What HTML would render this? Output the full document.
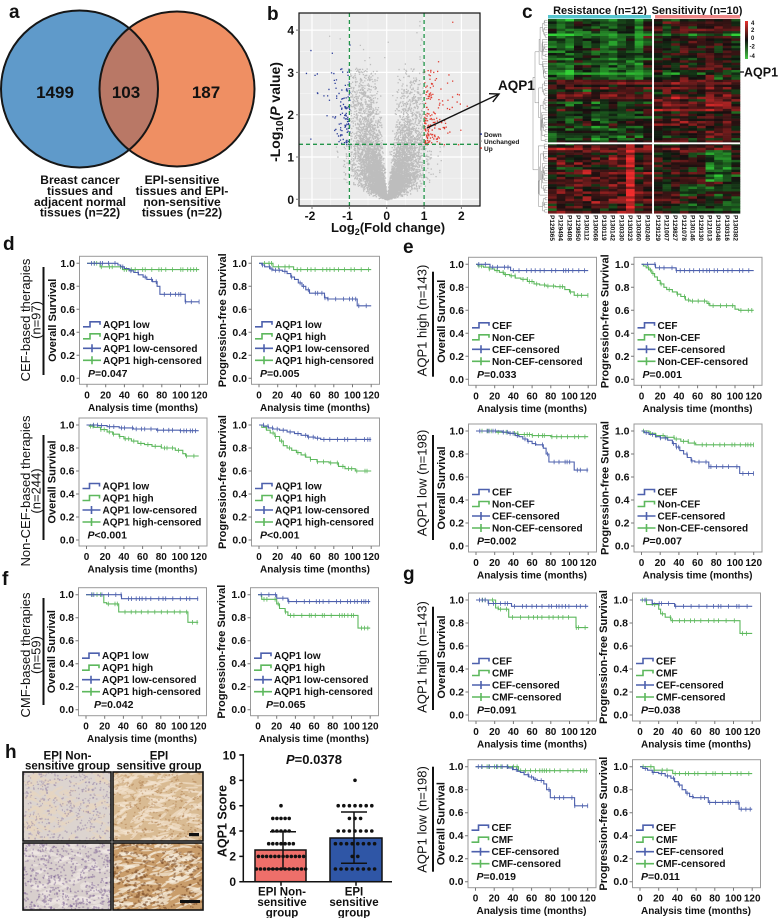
<!DOCTYPE html>
<html><head><meta charset="utf-8"><style>
html,body{margin:0;padding:0;background:#fff}
svg{display:block}
text{font-family:"Liberation Sans",Arial,sans-serif;font-weight:bold;fill:#111}
.yt{font-size:10.5px;text-anchor:end}
.xt{font-size:10px;text-anchor:middle}
.xl{font-size:10px;text-anchor:middle}
.yl{font-size:11px;text-anchor:middle}
.lg{font-size:10px}
.pv{font-size:10.5px}
.box{fill:#fff;stroke:#9a9a9a;stroke-width:1}
.tk{stroke:#777;stroke-width:1;fill:none}
.rl{font-size:13px;font-weight:normal;text-anchor:middle}
.pl{font-size:19px}
.sb{stroke:#4d60ad;stroke-width:1.6;fill:none}
.sg{stroke:#5db85d;stroke-width:1.6;fill:none}
.vn{font-size:17px;text-anchor:middle}
.vl{font-size:12px;text-anchor:middle}
.sid{font-size:6.5px}
</style></head><body>
<svg width="778" height="918" viewBox="0 0 778 918" xmlns="http://www.w3.org/2000/svg">
<defs>
<clipPath id="cb"><circle cx="79.5" cy="89" r="78.5"/></clipPath>
<clipPath id="vclip"><rect x="299" y="13" width="181" height="193"/></clipPath>
<clipPath id="i1"><rect x="23" y="772" width="88" height="69"/></clipPath>
<clipPath id="i2"><rect x="23" y="843" width="88" height="67"/></clipPath>
<clipPath id="i3"><rect x="113" y="772" width="90" height="69"/></clipPath>
<clipPath id="i4"><rect x="113" y="843" width="90" height="67"/></clipPath>
<linearGradient id="cs" x1="0" y1="0" x2="0" y2="1">
<stop offset="0" stop-color="#e8302c"/><stop offset="0.5" stop-color="#111"/><stop offset="1" stop-color="#45c845"/>
</linearGradient>
</defs>

<!-- Panel a: Venn -->
<text class="pl" x="9" y="18">a</text>
<circle cx="79.5" cy="89" r="78.5" fill="#5f9aca"/>
<circle cx="177" cy="89" r="77.5" fill="#ef8f63"/>
<circle cx="177" cy="89" r="77.5" fill="#b97866" clip-path="url(#cb)"/>
<circle cx="79.5" cy="89" r="78.5" fill="none" stroke="#161616" stroke-width="2"/>
<circle cx="177" cy="89" r="77.5" fill="none" stroke="#161616" stroke-width="2"/>
<text class="vn" x="55" y="98">1499</text>
<text class="vn" x="126" y="98">103</text>
<text class="vn" x="206" y="98">187</text>
<text class="vl"><tspan x="80" y="184">Breast cancer</tspan><tspan x="80" y="195">tissues and</tspan><tspan x="80" y="206">adjacent normal</tspan><tspan x="80" y="216.5">tissues (n=22)</tspan></text>
<text class="vl"><tspan x="182" y="184">EPI-sensitive</tspan><tspan x="182" y="195">tissues and EPI-</tspan><tspan x="182" y="206">non-sensitive</tspan><tspan x="182" y="216.5">tissues (n=22)</tspan></text>

<!-- Panel b: volcano -->
<text class="pl" x="267" y="20">b</text>
<rect x="299" y="13" width="181" height="193" fill="#ebebeb"/>
<path stroke="#f7f7f7" stroke-width="0.6" fill="none" d="M330.7 13V206M368 13V206M405.4 13V206M442.7 13V206M299 178.2H480M299 135.9H480M299 93.6H480M299 51.3H480"/>
<path stroke="#fff" stroke-width="1.2" fill="none" d="M312 13V206M349.4 13V206M386.7 13V206M424.1 13V206M461.4 13V206M299 199.3H480M299 157H480M299 114.7H480M299 72.4H480M299 30.1H480"/>
<g id="vpts" clip-path="url(#vclip)"></g>
<path stroke="#23954a" stroke-width="1.3" stroke-dasharray="4 3" fill="none" d="M349.4 13V206M424.1 13V206M299 144.3H480"/>
<rect x="299" y="13" width="181" height="193" fill="none" stroke="#111" stroke-width="1.2"/>
<path class="tk" stroke="#333" d="M299 199.3h-3M299 157h-3M299 114.7h-3M299 72.4h-3M299 30.1h-3M312 206v3M349.4 206v3M386.7 206v3M424.1 206v3M461.4 206v3"/>
<text style="font-size:12px;text-anchor:end"><tspan x="294" y="203.8">0</tspan><tspan x="294" y="161.5">1</tspan><tspan x="294" y="119.2">2</tspan><tspan x="294" y="76.9">3</tspan><tspan x="294" y="34.6">4</tspan></text>
<text style="font-size:12px;text-anchor:middle" y="220"><tspan x="310">-2</tspan><tspan x="347.5">-1</tspan><tspan x="386.7">0</tspan><tspan x="424.1">1</tspan><tspan x="461.4">2</tspan></text>
<text x="388" y="232" style="font-size:13px;text-anchor:middle">Log<tspan style="font-size:9px" dy="3">2</tspan><tspan dy="-3">(Fold change)</tspan></text>
<text transform="translate(280,112) rotate(-90)" style="font-size:14px;text-anchor:middle">-Log<tspan style="font-size:10px" dy="3">10</tspan><tspan dy="-3">(</tspan><tspan font-style="italic">P</tspan> value)</text>
<rect x="480.3" y="133.3" width="1.6" height="1.6" fill="#2b3d99"/>
<rect x="480.3" y="140.3" width="1.6" height="1.6" fill="#b9b9b9"/>
<rect x="480.3" y="147.3" width="1.6" height="1.6" fill="#e03c31"/>
<text style="font-size:6.5px"><tspan x="484" y="137">Down</tspan><tspan x="484" y="144">Unchanged</tspan><tspan x="484" y="151">Up</tspan></text>
<path d="M427 128L499 94" stroke="#111" stroke-width="1.4" fill="none"/>
<polyline points="489,93.7 499,94 492.8,101.9" stroke="#111" stroke-width="1.4" fill="none"/>
<text x="498" y="90" style="font-size:13.5px">AQP1</text>

<!-- Panel c: heatmap -->
<text class="pl" x="522" y="18">c</text>
<text x="600" y="14" style="font-size:11px;text-anchor:middle">Resistance (n=12)</text>
<text x="697" y="14" style="font-size:11px;text-anchor:middle">Sensitivity (n=10)</text>
<rect x="548" y="15" width="103" height="3.5" fill="#56c5cf"/>
<rect x="655" y="15" width="85" height="3.5" fill="#ee8686"/>
<g id="hm"></g>
<path d="M653 19V213.3M548 143.3H740" stroke="#fff" stroke-width="1.8"/>
<g id="dend"></g>
<rect x="745" y="21" width="3" height="38" fill="url(#cs)"/>
<text style="font-size:6px"><tspan x="751" y="25">4</tspan><tspan x="751" y="32">2</tspan><tspan x="751" y="40">0</tspan><tspan x="749.5" y="48.5">-2</tspan><tspan x="749.5" y="58">-4</tspan></text>
<path d="M740 72H744" stroke="#111" stroke-width="1.3"/>
<text x="744" y="76.5" style="font-size:12.5px">AQP1</text>
<g class="sid">
<text transform="translate(550,215) rotate(90)">P129365</text>
<text transform="translate(558.7,215) rotate(90)">P129494</text>
<text transform="translate(567.4,215) rotate(90)">P129408</text>
<text transform="translate(576,215) rotate(90)">P129850</text>
<text transform="translate(584.7,215) rotate(90)">P130112</text>
<text transform="translate(593.4,215) rotate(90)">P130068</text>
<text transform="translate(602,215) rotate(90)">P130119</text>
<text transform="translate(610.7,215) rotate(90)">P130142</text>
<text transform="translate(619.4,215) rotate(90)">P130330</text>
<text transform="translate(628,215) rotate(90)">P130323</text>
<text transform="translate(636.7,215) rotate(90)">P130360</text>
<text transform="translate(645.4,215) rotate(90)">P130240</text>
<text transform="translate(656,215) rotate(90)">P129129</text>
<text transform="translate(664.6,215) rotate(90)">P121007</text>
<text transform="translate(673.2,215) rotate(90)">P129827</text>
<text transform="translate(681.8,215) rotate(90)">P121078</text>
<text transform="translate(690.4,215) rotate(90)">P130146</text>
<text transform="translate(699,215) rotate(90)">P129130</text>
<text transform="translate(707.6,215) rotate(90)">P121013</text>
<text transform="translate(716.2,215) rotate(90)">P130348</text>
<text transform="translate(724.8,215) rotate(90)">P130316</text>
<text transform="translate(733.4,215) rotate(90)">P130382</text>
</g>

<!-- Panel letters d e f g -->
<text class="pl" x="3" y="250">d</text>
<text class="pl" x="403" y="253">e</text>
<text class="pl" x="2" y="585">f</text>
<text class="pl" x="403" y="580">g</text>

<!-- Row labels left -->
<text class="rl" transform="translate(30,320) rotate(-90)">CEF-based therapies</text>
<text class="rl" transform="translate(40.5,320) rotate(-90)">(n=97)</text>
<path d="M43.5 267V375" stroke="#111" stroke-width="2"/>
<text class="rl" transform="translate(30,491) rotate(-90)">Non-CEF-based therapies</text>
<text class="rl" transform="translate(40.5,491) rotate(-90)">(n=244)</text>
<path d="M43.5 435V540" stroke="#111" stroke-width="2"/>
<text class="rl" transform="translate(30,655) rotate(-90)">CMF-based therapies</text>
<text class="rl" transform="translate(40.5,655) rotate(-90)">(n=59)</text>
<path d="M43.5 598V705" stroke="#111" stroke-width="2"/>
<!-- Row labels right -->
<text class="rl" transform="translate(426.5,320.5) rotate(-90)">AQP1 high (n=143)</text>
<path d="M433 271.7V376.7" stroke="#111" stroke-width="2"/>
<text class="rl" transform="translate(426.5,483) rotate(-90)">AQP1 low (n=198)</text>
<path d="M433 435V540" stroke="#111" stroke-width="2"/>
<text class="rl" transform="translate(426.5,657) rotate(-90)">AQP1 high (n=143)</text>
<path d="M433 606.7V710" stroke="#111" stroke-width="2"/>
<text class="rl" transform="translate(426.5,819.5) rotate(-90)">AQP1 low (n=198)</text>
<path d="M433 766.7V871.7" stroke="#111" stroke-width="2"/>

<!-- KM plot 1 -->
<g transform="translate(87,378.3)">
<rect class="box" x="-7.5" y="-122" width="128" height="128"/>
<path class="tk" d="M-7.5 0h-3M-7.5-23h-3M-7.5-46h-3M-7.5-69h-3M-7.5-92h-3M-7.5-115h-3M0 6v3M18.7 6v3M37.4 6v3M56.1 6v3M74.8 6v3M93.5 6v3M112.2 6v3"/>
<text class="yt"><tspan x="-12" y="3.5">0.0</tspan><tspan x="-12" y="-19.5">0.2</tspan><tspan x="-12" y="-42.5">0.4</tspan><tspan x="-12" y="-65.5">0.6</tspan><tspan x="-12" y="-88.5">0.8</tspan><tspan x="-12" y="-111.5">1.0</tspan></text>
<text class="xt" y="20"><tspan x="0">0</tspan><tspan x="18.7">20</tspan><tspan x="37.4">40</tspan><tspan x="56.1">60</tspan><tspan x="74.8">80</tspan><tspan x="93.5">100</tspan><tspan x="112.2">120</tspan></text>
<text class="xl" x="56" y="32.5">Analysis time (months)</text>
<text class="yl" transform="translate(-31,-58) rotate(-90)">Overall Survival</text>
<path class="sb" d="M-4-51.5H3V-56.5H13V-53.5"/><path class="sg" d="M-4-39.5H3V-44.5H13V-41.5"/><path class="sb" d="M-4-30H14M5-34V-26"/><path class="sg" d="M-4-18H14M5-22V-14"/>
<text class="lg"><tspan x="16" y="-50.5">AQP1 low</tspan><tspan x="16" y="-38.5">AQP1 high</tspan><tspan x="16" y="-26.5">AQP1 low-censored</tspan><tspan x="16" y="-14.5">AQP1 high-censored</tspan></text>
<text class="pv" x="1" y="-1.5"><tspan font-style="italic">P</tspan>=0.047</text>
<g id="k1"></g>
</g>
<!-- KM plot 2 -->
<g transform="translate(259,378.3)">
<rect class="box" x="-7.5" y="-122" width="128" height="128"/>
<path class="tk" d="M-7.5 0h-3M-7.5-23h-3M-7.5-46h-3M-7.5-69h-3M-7.5-92h-3M-7.5-115h-3M0 6v3M18.7 6v3M37.4 6v3M56.1 6v3M74.8 6v3M93.5 6v3M112.2 6v3"/>
<text class="yt"><tspan x="-12" y="3.5">0.0</tspan><tspan x="-12" y="-19.5">0.2</tspan><tspan x="-12" y="-42.5">0.4</tspan><tspan x="-12" y="-65.5">0.6</tspan><tspan x="-12" y="-88.5">0.8</tspan><tspan x="-12" y="-111.5">1.0</tspan></text>
<text class="xt" y="20"><tspan x="0">0</tspan><tspan x="18.7">20</tspan><tspan x="37.4">40</tspan><tspan x="56.1">60</tspan><tspan x="74.8">80</tspan><tspan x="93.5">100</tspan><tspan x="112.2">120</tspan></text>
<text class="xl" x="56" y="32.5">Analysis time (months)</text>
<text class="yl" transform="translate(-33,-58) rotate(-90)">Progression-free Survival</text>
<path class="sb" d="M-4-51.5H3V-56.5H13V-53.5"/><path class="sg" d="M-4-39.5H3V-44.5H13V-41.5"/><path class="sb" d="M-4-30H14M5-34V-26"/><path class="sg" d="M-4-18H14M5-22V-14"/>
<text class="lg"><tspan x="16" y="-50.5">AQP1 low</tspan><tspan x="16" y="-38.5">AQP1 high</tspan><tspan x="16" y="-26.5">AQP1 low-censored</tspan><tspan x="16" y="-14.5">AQP1 high-censored</tspan></text>
<text class="pv" x="1" y="-1.5"><tspan font-style="italic">P</tspan>=0.005</text>
<g id="k2"></g>
</g>
<!-- KM plot 3 -->
<g transform="translate(86.5,540)">
<rect class="box" x="-7.5" y="-122" width="128" height="128"/>
<path class="tk" d="M-7.5 0h-3M-7.5-23h-3M-7.5-46h-3M-7.5-69h-3M-7.5-92h-3M-7.5-115h-3M0 6v3M18.7 6v3M37.4 6v3M56.1 6v3M74.8 6v3M93.5 6v3M112.2 6v3"/>
<text class="yt"><tspan x="-12" y="3.5">0.0</tspan><tspan x="-12" y="-19.5">0.2</tspan><tspan x="-12" y="-42.5">0.4</tspan><tspan x="-12" y="-65.5">0.6</tspan><tspan x="-12" y="-88.5">0.8</tspan><tspan x="-12" y="-111.5">1.0</tspan></text>
<text class="xt" y="20"><tspan x="0">0</tspan><tspan x="18.7">20</tspan><tspan x="37.4">40</tspan><tspan x="56.1">60</tspan><tspan x="74.8">80</tspan><tspan x="93.5">100</tspan><tspan x="112.2">120</tspan></text>
<text class="xl" x="56" y="32.5">Analysis time (months)</text>
<text class="yl" transform="translate(-31,-58) rotate(-90)">Overall Survival</text>
<path class="sb" d="M-4-51.5H3V-56.5H13V-53.5"/><path class="sg" d="M-4-39.5H3V-44.5H13V-41.5"/><path class="sb" d="M-4-30H14M5-34V-26"/><path class="sg" d="M-4-18H14M5-22V-14"/>
<text class="lg"><tspan x="16" y="-50.5">AQP1 low</tspan><tspan x="16" y="-38.5">AQP1 high</tspan><tspan x="16" y="-26.5">AQP1 low-censored</tspan><tspan x="16" y="-14.5">AQP1 high-censored</tspan></text>
<text class="pv" x="1" y="-1.5"><tspan font-style="italic">P</tspan>&lt;0.001</text>
<g id="k3"></g>
</g>
<!-- KM plot 4 -->
<g transform="translate(259,540)">
<rect class="box" x="-7.5" y="-122" width="128" height="128"/>
<path class="tk" d="M-7.5 0h-3M-7.5-23h-3M-7.5-46h-3M-7.5-69h-3M-7.5-92h-3M-7.5-115h-3M0 6v3M18.7 6v3M37.4 6v3M56.1 6v3M74.8 6v3M93.5 6v3M112.2 6v3"/>
<text class="yt"><tspan x="-12" y="3.5">0.0</tspan><tspan x="-12" y="-19.5">0.2</tspan><tspan x="-12" y="-42.5">0.4</tspan><tspan x="-12" y="-65.5">0.6</tspan><tspan x="-12" y="-88.5">0.8</tspan><tspan x="-12" y="-111.5">1.0</tspan></text>
<text class="xt" y="20"><tspan x="0">0</tspan><tspan x="18.7">20</tspan><tspan x="37.4">40</tspan><tspan x="56.1">60</tspan><tspan x="74.8">80</tspan><tspan x="93.5">100</tspan><tspan x="112.2">120</tspan></text>
<text class="xl" x="56" y="32.5">Analysis time (months)</text>
<text class="yl" transform="translate(-33,-58) rotate(-90)">Progression-free Survival</text>
<path class="sb" d="M-4-51.5H3V-56.5H13V-53.5"/><path class="sg" d="M-4-39.5H3V-44.5H13V-41.5"/><path class="sb" d="M-4-30H14M5-34V-26"/><path class="sg" d="M-4-18H14M5-22V-14"/>
<text class="lg"><tspan x="16" y="-50.5">AQP1 low</tspan><tspan x="16" y="-38.5">AQP1 high</tspan><tspan x="16" y="-26.5">AQP1 low-censored</tspan><tspan x="16" y="-14.5">AQP1 high-censored</tspan></text>
<text class="pv" x="1" y="-1.5"><tspan font-style="italic">P</tspan>&lt;0.001</text>
<g id="k4"></g>
</g>
<!-- KM plot 5 (f OS) -->
<g transform="translate(86,709.7)">
<rect class="box" x="-7.5" y="-122" width="128" height="128"/>
<path class="tk" d="M-7.5 0h-3M-7.5-23h-3M-7.5-46h-3M-7.5-69h-3M-7.5-92h-3M-7.5-115h-3M0 6v3M18.7 6v3M37.4 6v3M56.1 6v3M74.8 6v3M93.5 6v3M112.2 6v3"/>
<text class="yt"><tspan x="-12" y="3.5">0.0</tspan><tspan x="-12" y="-19.5">0.2</tspan><tspan x="-12" y="-42.5">0.4</tspan><tspan x="-12" y="-65.5">0.6</tspan><tspan x="-12" y="-88.5">0.8</tspan><tspan x="-12" y="-111.5">1.0</tspan></text>
<text class="xt" y="20"><tspan x="0">0</tspan><tspan x="18.7">20</tspan><tspan x="37.4">40</tspan><tspan x="56.1">60</tspan><tspan x="74.8">80</tspan><tspan x="93.5">100</tspan><tspan x="112.2">120</tspan></text>
<text class="xl" x="56" y="32.5">Analysis time (months)</text>
<text class="yl" transform="translate(-31,-58) rotate(-90)">Overall Survival</text>
<path class="sb" d="M-4-51.5H3V-56.5H13V-53.5"/><path class="sg" d="M-4-39.5H3V-44.5H13V-41.5"/><path class="sb" d="M-4-30H14M5-34V-26"/><path class="sg" d="M-4-18H14M5-22V-14"/>
<text class="lg"><tspan x="16" y="-50.5">AQP1 low</tspan><tspan x="16" y="-38.5">AQP1 high</tspan><tspan x="16" y="-26.5">AQP1 low-censored</tspan><tspan x="16" y="-14.5">AQP1 high-censored</tspan></text>
<text class="pv" x="8" y="-1.5"><tspan font-style="italic">P</tspan>=0.042</text>
<g id="k5"></g>
</g>
<!-- KM plot 6 (f PFS) -->
<g transform="translate(258,709.7)">
<rect class="box" x="-7.5" y="-122" width="128" height="128"/>
<path class="tk" d="M-7.5 0h-3M-7.5-23h-3M-7.5-46h-3M-7.5-69h-3M-7.5-92h-3M-7.5-115h-3M0 6v3M18.7 6v3M37.4 6v3M56.1 6v3M74.8 6v3M93.5 6v3M112.2 6v3"/>
<text class="yt"><tspan x="-12" y="3.5">0.0</tspan><tspan x="-12" y="-19.5">0.2</tspan><tspan x="-12" y="-42.5">0.4</tspan><tspan x="-12" y="-65.5">0.6</tspan><tspan x="-12" y="-88.5">0.8</tspan><tspan x="-12" y="-111.5">1.0</tspan></text>
<text class="xt" y="20"><tspan x="0">0</tspan><tspan x="18.7">20</tspan><tspan x="37.4">40</tspan><tspan x="56.1">60</tspan><tspan x="74.8">80</tspan><tspan x="93.5">100</tspan><tspan x="112.2">120</tspan></text>
<text class="xl" x="56" y="32.5">Analysis time (months)</text>
<text class="yl" transform="translate(-33,-58) rotate(-90)">Progression-free Survival</text>
<path class="sb" d="M-4-51.5H3V-56.5H13V-53.5"/><path class="sg" d="M-4-39.5H3V-44.5H13V-41.5"/><path class="sb" d="M-4-30H14M5-34V-26"/><path class="sg" d="M-4-18H14M5-22V-14"/>
<text class="lg"><tspan x="16" y="-50.5">AQP1 low</tspan><tspan x="16" y="-38.5">AQP1 high</tspan><tspan x="16" y="-26.5">AQP1 low-censored</tspan><tspan x="16" y="-14.5">AQP1 high-censored</tspan></text>
<text class="pv" x="8" y="-1.5"><tspan font-style="italic">P</tspan>=0.065</text>
<g id="k6"></g>
</g>
<!-- KM plot 7 (e OS top) -->
<g transform="translate(476,379.3)">
<rect class="box" x="-7.5" y="-122" width="128" height="128"/>
<path class="tk" d="M-7.5 0h-3M-7.5-23h-3M-7.5-46h-3M-7.5-69h-3M-7.5-92h-3M-7.5-115h-3M0 6v3M18.7 6v3M37.4 6v3M56.1 6v3M74.8 6v3M93.5 6v3M112.2 6v3"/>
<text class="yt"><tspan x="-12" y="3.5">0.0</tspan><tspan x="-12" y="-19.5">0.2</tspan><tspan x="-12" y="-42.5">0.4</tspan><tspan x="-12" y="-65.5">0.6</tspan><tspan x="-12" y="-88.5">0.8</tspan><tspan x="-12" y="-111.5">1.0</tspan></text>
<text class="xt" y="20"><tspan x="0">0</tspan><tspan x="18.7">20</tspan><tspan x="37.4">40</tspan><tspan x="56.1">60</tspan><tspan x="74.8">80</tspan><tspan x="93.5">100</tspan><tspan x="112.2">120</tspan></text>
<text class="xl" x="56" y="32.5">Analysis time (months)</text>
<text class="yl" transform="translate(-31,-58) rotate(-90)">Overall Survival</text>
<path class="sb" d="M-4-51.5H3V-56.5H13V-53.5"/><path class="sg" d="M-4-39.5H3V-44.5H13V-41.5"/><path class="sb" d="M-4-30H14M5-34V-26"/><path class="sg" d="M-4-18H14M5-22V-14"/>
<text class="lg"><tspan x="16" y="-50.5">CEF</tspan><tspan x="16" y="-38.5">Non-CEF</tspan><tspan x="16" y="-26.5">CEF-censored</tspan><tspan x="16" y="-14.5">Non-CEF-censored</tspan></text>
<text class="pv" x="1" y="-1.5"><tspan font-style="italic">P</tspan>=0.033</text>
<g id="k7"></g>
</g>
<!-- KM plot 8 -->
<g transform="translate(641.5,379.3)">
<rect class="box" x="-7.5" y="-122" width="128" height="128"/>
<path class="tk" d="M-7.5 0h-3M-7.5-23h-3M-7.5-46h-3M-7.5-69h-3M-7.5-92h-3M-7.5-115h-3M0 6v3M18.7 6v3M37.4 6v3M56.1 6v3M74.8 6v3M93.5 6v3M112.2 6v3"/>
<text class="yt"><tspan x="-12" y="3.5">0.0</tspan><tspan x="-12" y="-19.5">0.2</tspan><tspan x="-12" y="-42.5">0.4</tspan><tspan x="-12" y="-65.5">0.6</tspan><tspan x="-12" y="-88.5">0.8</tspan><tspan x="-12" y="-111.5">1.0</tspan></text>
<text class="xt" y="20"><tspan x="0">0</tspan><tspan x="18.7">20</tspan><tspan x="37.4">40</tspan><tspan x="56.1">60</tspan><tspan x="74.8">80</tspan><tspan x="93.5">100</tspan><tspan x="112.2">120</tspan></text>
<text class="xl" x="56" y="32.5">Analysis time (months)</text>
<text class="yl" transform="translate(-33,-58) rotate(-90)">Progression-free Survival</text>
<path class="sb" d="M-4-51.5H3V-56.5H13V-53.5"/><path class="sg" d="M-4-39.5H3V-44.5H13V-41.5"/><path class="sb" d="M-4-30H14M5-34V-26"/><path class="sg" d="M-4-18H14M5-22V-14"/>
<text class="lg"><tspan x="16" y="-50.5">CEF</tspan><tspan x="16" y="-38.5">Non-CEF</tspan><tspan x="16" y="-26.5">CEF-censored</tspan><tspan x="16" y="-14.5">Non-CEF-censored</tspan></text>
<text class="pv" x="1" y="-1.5"><tspan font-style="italic">P</tspan>=0.001</text>
<g id="k8"></g>
</g>
<!-- KM plot 9 -->
<g transform="translate(476,546)">
<rect class="box" x="-7.5" y="-122" width="128" height="128"/>
<path class="tk" d="M-7.5 0h-3M-7.5-23h-3M-7.5-46h-3M-7.5-69h-3M-7.5-92h-3M-7.5-115h-3M0 6v3M18.7 6v3M37.4 6v3M56.1 6v3M74.8 6v3M93.5 6v3M112.2 6v3"/>
<text class="yt"><tspan x="-12" y="3.5">0.0</tspan><tspan x="-12" y="-19.5">0.2</tspan><tspan x="-12" y="-42.5">0.4</tspan><tspan x="-12" y="-65.5">0.6</tspan><tspan x="-12" y="-88.5">0.8</tspan><tspan x="-12" y="-111.5">1.0</tspan></text>
<text class="xt" y="20"><tspan x="0">0</tspan><tspan x="18.7">20</tspan><tspan x="37.4">40</tspan><tspan x="56.1">60</tspan><tspan x="74.8">80</tspan><tspan x="93.5">100</tspan><tspan x="112.2">120</tspan></text>
<text class="xl" x="56" y="32.5">Analysis time (months)</text>
<text class="yl" transform="translate(-31,-58) rotate(-90)">Overall Survival</text>
<path class="sb" d="M-4-51.5H3V-56.5H13V-53.5"/><path class="sg" d="M-4-39.5H3V-44.5H13V-41.5"/><path class="sb" d="M-4-30H14M5-34V-26"/><path class="sg" d="M-4-18H14M5-22V-14"/>
<text class="lg"><tspan x="16" y="-50.5">CEF</tspan><tspan x="16" y="-38.5">Non-CEF</tspan><tspan x="16" y="-26.5">CEF-censored</tspan><tspan x="16" y="-14.5">Non-CEF-censored</tspan></text>
<text class="pv" x="1" y="-1.5"><tspan font-style="italic">P</tspan>=0.002</text>
<g id="k9"></g>
</g>
<!-- KM plot 10 -->
<g transform="translate(641.5,546)">
<rect class="box" x="-7.5" y="-122" width="128" height="128"/>
<path class="tk" d="M-7.5 0h-3M-7.5-23h-3M-7.5-46h-3M-7.5-69h-3M-7.5-92h-3M-7.5-115h-3M0 6v3M18.7 6v3M37.4 6v3M56.1 6v3M74.8 6v3M93.5 6v3M112.2 6v3"/>
<text class="yt"><tspan x="-12" y="3.5">0.0</tspan><tspan x="-12" y="-19.5">0.2</tspan><tspan x="-12" y="-42.5">0.4</tspan><tspan x="-12" y="-65.5">0.6</tspan><tspan x="-12" y="-88.5">0.8</tspan><tspan x="-12" y="-111.5">1.0</tspan></text>
<text class="xt" y="20"><tspan x="0">0</tspan><tspan x="18.7">20</tspan><tspan x="37.4">40</tspan><tspan x="56.1">60</tspan><tspan x="74.8">80</tspan><tspan x="93.5">100</tspan><tspan x="112.2">120</tspan></text>
<text class="xl" x="56" y="32.5">Analysis time (months)</text>
<text class="yl" transform="translate(-33,-58) rotate(-90)">Progression-free Survival</text>
<path class="sb" d="M-4-51.5H3V-56.5H13V-53.5"/><path class="sg" d="M-4-39.5H3V-44.5H13V-41.5"/><path class="sb" d="M-4-30H14M5-34V-26"/><path class="sg" d="M-4-18H14M5-22V-14"/>
<text class="lg"><tspan x="16" y="-50.5">CEF</tspan><tspan x="16" y="-38.5">Non-CEF</tspan><tspan x="16" y="-26.5">CEF-censored</tspan><tspan x="16" y="-14.5">Non-CEF-censored</tspan></text>
<text class="pv" x="1" y="-1.5"><tspan font-style="italic">P</tspan>=0.007</text>
<g id="k10"></g>
</g>
<!-- KM plot 11 -->
<g transform="translate(476,715)">
<rect class="box" x="-7.5" y="-122" width="128" height="128"/>
<path class="tk" d="M-7.5 0h-3M-7.5-23h-3M-7.5-46h-3M-7.5-69h-3M-7.5-92h-3M-7.5-115h-3M0 6v3M18.7 6v3M37.4 6v3M56.1 6v3M74.8 6v3M93.5 6v3M112.2 6v3"/>
<text class="yt"><tspan x="-12" y="3.5">0.0</tspan><tspan x="-12" y="-19.5">0.2</tspan><tspan x="-12" y="-42.5">0.4</tspan><tspan x="-12" y="-65.5">0.6</tspan><tspan x="-12" y="-88.5">0.8</tspan><tspan x="-12" y="-111.5">1.0</tspan></text>
<text class="xt" y="20"><tspan x="0">0</tspan><tspan x="18.7">20</tspan><tspan x="37.4">40</tspan><tspan x="56.1">60</tspan><tspan x="74.8">80</tspan><tspan x="93.5">100</tspan><tspan x="112.2">120</tspan></text>
<text class="xl" x="56" y="32.5">Analysis time (months)</text>
<text class="yl" transform="translate(-31,-58) rotate(-90)">Overall Survival</text>
<path class="sb" d="M-4-51.5H3V-56.5H13V-53.5"/><path class="sg" d="M-4-39.5H3V-44.5H13V-41.5"/><path class="sb" d="M-4-30H14M5-34V-26"/><path class="sg" d="M-4-18H14M5-22V-14"/>
<text class="lg"><tspan x="16" y="-50.5">CEF</tspan><tspan x="16" y="-38.5">CMF</tspan><tspan x="16" y="-26.5">CEF-censored</tspan><tspan x="16" y="-14.5">CMF-censored</tspan></text>
<text class="pv" x="1" y="-1.5"><tspan font-style="italic">P</tspan>=0.091</text>
<g id="k11"></g>
</g>
<!-- KM plot 12 -->
<g transform="translate(640,715)">
<rect class="box" x="-7.5" y="-122" width="128" height="128"/>
<path class="tk" d="M-7.5 0h-3M-7.5-23h-3M-7.5-46h-3M-7.5-69h-3M-7.5-92h-3M-7.5-115h-3M0 6v3M18.7 6v3M37.4 6v3M56.1 6v3M74.8 6v3M93.5 6v3M112.2 6v3"/>
<text class="yt"><tspan x="-12" y="3.5">0.0</tspan><tspan x="-12" y="-19.5">0.2</tspan><tspan x="-12" y="-42.5">0.4</tspan><tspan x="-12" y="-65.5">0.6</tspan><tspan x="-12" y="-88.5">0.8</tspan><tspan x="-12" y="-111.5">1.0</tspan></text>
<text class="xt" y="20"><tspan x="0">0</tspan><tspan x="18.7">20</tspan><tspan x="37.4">40</tspan><tspan x="56.1">60</tspan><tspan x="74.8">80</tspan><tspan x="93.5">100</tspan><tspan x="112.2">120</tspan></text>
<text class="xl" x="56" y="32.5">Analysis time (months)</text>
<text class="yl" transform="translate(-33,-58) rotate(-90)">Progression-free Survival</text>
<path class="sb" d="M-4-51.5H3V-56.5H13V-53.5"/><path class="sg" d="M-4-39.5H3V-44.5H13V-41.5"/><path class="sb" d="M-4-30H14M5-34V-26"/><path class="sg" d="M-4-18H14M5-22V-14"/>
<text class="lg"><tspan x="16" y="-50.5">CEF</tspan><tspan x="16" y="-38.5">CMF</tspan><tspan x="16" y="-26.5">CEF-censored</tspan><tspan x="16" y="-14.5">CMF-censored</tspan></text>
<text class="pv" x="1" y="-1.5"><tspan font-style="italic">P</tspan>=0.038</text>
<g id="k12"></g>
</g>
<!-- KM plot 13 -->
<g transform="translate(475.5,881.7)">
<rect class="box" x="-7.5" y="-122" width="128" height="128"/>
<path class="tk" d="M-7.5 0h-3M-7.5-23h-3M-7.5-46h-3M-7.5-69h-3M-7.5-92h-3M-7.5-115h-3M0 6v3M18.7 6v3M37.4 6v3M56.1 6v3M74.8 6v3M93.5 6v3M112.2 6v3"/>
<text class="yt"><tspan x="-12" y="3.5">0.0</tspan><tspan x="-12" y="-19.5">0.2</tspan><tspan x="-12" y="-42.5">0.4</tspan><tspan x="-12" y="-65.5">0.6</tspan><tspan x="-12" y="-88.5">0.8</tspan><tspan x="-12" y="-111.5">1.0</tspan></text>
<text class="xt" y="20"><tspan x="0">0</tspan><tspan x="18.7">20</tspan><tspan x="37.4">40</tspan><tspan x="56.1">60</tspan><tspan x="74.8">80</tspan><tspan x="93.5">100</tspan><tspan x="112.2">120</tspan></text>
<text class="xl" x="56" y="32.5">Analysis time (months)</text>
<text class="yl" transform="translate(-31,-58) rotate(-90)">Overall Survival</text>
<path class="sb" d="M-4-51.5H3V-56.5H13V-53.5"/><path class="sg" d="M-4-39.5H3V-44.5H13V-41.5"/><path class="sb" d="M-4-30H14M5-34V-26"/><path class="sg" d="M-4-18H14M5-22V-14"/>
<text class="lg"><tspan x="16" y="-50.5">CEF</tspan><tspan x="16" y="-38.5">CMF</tspan><tspan x="16" y="-26.5">CEF-censored</tspan><tspan x="16" y="-14.5">CMF-censored</tspan></text>
<text class="pv" x="1" y="-1.5"><tspan font-style="italic">P</tspan>=0.019</text>
<g id="k13"></g>
</g>
<!-- KM plot 14 -->
<g transform="translate(640,881.7)">
<rect class="box" x="-7.5" y="-122" width="128" height="128"/>
<path class="tk" d="M-7.5 0h-3M-7.5-23h-3M-7.5-46h-3M-7.5-69h-3M-7.5-92h-3M-7.5-115h-3M0 6v3M18.7 6v3M37.4 6v3M56.1 6v3M74.8 6v3M93.5 6v3M112.2 6v3"/>
<text class="yt"><tspan x="-12" y="3.5">0.0</tspan><tspan x="-12" y="-19.5">0.2</tspan><tspan x="-12" y="-42.5">0.4</tspan><tspan x="-12" y="-65.5">0.6</tspan><tspan x="-12" y="-88.5">0.8</tspan><tspan x="-12" y="-111.5">1.0</tspan></text>
<text class="xt" y="20"><tspan x="0">0</tspan><tspan x="18.7">20</tspan><tspan x="37.4">40</tspan><tspan x="56.1">60</tspan><tspan x="74.8">80</tspan><tspan x="93.5">100</tspan><tspan x="112.2">120</tspan></text>
<text class="xl" x="56" y="32.5">Analysis time (months)</text>
<text class="yl" transform="translate(-33,-58) rotate(-90)">Progression-free Survival</text>
<path class="sb" d="M-4-51.5H3V-56.5H13V-53.5"/><path class="sg" d="M-4-39.5H3V-44.5H13V-41.5"/><path class="sb" d="M-4-30H14M5-34V-26"/><path class="sg" d="M-4-18H14M5-22V-14"/>
<text class="lg"><tspan x="16" y="-50.5">CEF</tspan><tspan x="16" y="-38.5">CMF</tspan><tspan x="16" y="-26.5">CEF-censored</tspan><tspan x="16" y="-14.5">CMF-censored</tspan></text>
<text class="pv" x="1" y="-1.5"><tspan font-style="italic">P</tspan>=0.011</text>
<g id="k14"></g>
</g>

<!-- Panel h -->
<text class="pl" x="5" y="758">h</text>
<text style="font-size:11.5px;text-anchor:middle"><tspan x="67.5" y="759.5">EPI Non-</tspan><tspan x="67.5" y="769.5">sensitive group</tspan></text>
<text style="font-size:11.5px;text-anchor:middle"><tspan x="159" y="759.5">EPI</tspan><tspan x="159" y="769.5">sensitive group</tspan></text>
<g id="ihc"></g>
<rect x="23" y="772" width="88" height="69" fill="none" stroke="#111" stroke-width="1.6"/>
<rect x="23" y="843" width="88" height="67" fill="none" stroke="#111" stroke-width="1.6"/>
<rect x="113" y="772" width="90" height="69" fill="none" stroke="#111" stroke-width="1.6"/>
<rect x="113" y="843" width="90" height="67" fill="none" stroke="#111" stroke-width="1.6"/>
<rect x="189" y="833" width="10" height="3.2" fill="#111"/>
<rect x="180" y="900" width="20" height="3" fill="#111"/>

<!-- bar chart -->
<text x="314" y="764" style="font-size:13px;text-anchor:middle"><tspan font-style="italic">P</tspan>=0.0378</text>
<rect x="255" y="850" width="51" height="31.7" fill="#ee6f6a" stroke="#111" stroke-width="1.5"/>
<rect x="330" y="838" width="52" height="43.7" fill="#2f56a6" stroke="#111" stroke-width="1.5"/>
<g id="hdots"></g>
<path d="M283 869V831.7M270 831.7H296M270 869H296M354 863.3V812M341 812H367M341 863.3H367" stroke="#111" stroke-width="1.5" fill="none"/>
<path d="M243.3 754V882.5M243.3 881.7H392M243.3 881.7h-4M243.3 856.4h-4M243.3 831h-4M243.3 805.7h-4M243.3 780.4h-4M243.3 755h-4M281 881.7v4M356 881.7v4" stroke="#111" stroke-width="1.5" fill="none"/>
<text style="font-size:12px;text-anchor:end"><tspan x="236" y="886">0</tspan><tspan x="236" y="860.7">2</tspan><tspan x="236" y="835.3">4</tspan><tspan x="236" y="810">6</tspan><tspan x="236" y="784.7">8</tspan><tspan x="236" y="759.3">10</tspan></text>
<text transform="translate(226.5,821) rotate(-90)" style="font-size:12.5px;text-anchor:middle">AQP1 Score</text>
<text style="font-size:11.5px;text-anchor:middle"><tspan x="282" y="895.5">EPI Non-</tspan><tspan x="282" y="906">sensitive</tspan><tspan x="282" y="916.5">group</tspan></text>
<text style="font-size:11.5px;text-anchor:middle"><tspan x="354" y="895.5">EPI</tspan><tspan x="354" y="906">sensitive</tspan><tspan x="354" y="916.5">group</tspan></text>
</svg>

<script>
(function(){
const NS='http://www.w3.org/2000/svg';
function mk(tag,attrs,parent){const e=document.createElementNS(NS,tag);for(const k in attrs)e.setAttribute(k,attrs[k]);parent.appendChild(e);return e;}
function rng(a){return function(){a|=0;a=a+0x6D2B79F5|0;let t=Math.imul(a^a>>>15,1|a);t=t+Math.imul(t^t>>>7,61|t)^t;return((t^t>>>14)>>>0)/4294967296;};}
const R=rng(12345);
function N(){let u=1-R(),v=R();return Math.sqrt(-2*Math.log(u))*Math.cos(2*Math.PI*v);}

/* ---- volcano ---- */
const V=document.getElementById('vpts');
const vx=x=>386.7+37.35*x, vy=y=>199.3-42.3*y;
let gs='',rs='',bs='';
function pt(x,y,s){const px=vx(x),py=vy(y);if(px<299.5||px>479||py<13.5||py>205.5)return '';s=s||1.3;return 'M'+px.toFixed(1)+' '+py.toFixed(1)+'h'+s+'v'+s+'h-'+s+'z';}
for(let i=0;i<9000;i++){
  let x=N()*0.5;
  let y=Math.abs(x)*Math.exp(N()*0.7+0.75);
  if(x>0)y*=0.85;
  if(y>3.1&&R()<0.93)continue;
  const p=pt(x,y);
  if(y>1.301&&x<-1)bs+=p;else if(y>1.301&&x>1)rs+=p;else gs+=p;
}
for(let i=0;i<25;i++){bs+=pt(-1-Math.abs(N())*0.25,1.3+Math.abs(N())*0.7);}
for(let i=0;i<10;i++){bs+=pt(-1.3-R()*0.9,1.4+R()*2.2);}
for(let i=0;i<50;i++){rs+=pt(1+Math.abs(N())*0.25,1.3+Math.abs(N())*0.5);}
for(let i=0;i<25;i++){rs+=pt(1+R()*1.0,1.3+R()*1.7);}
rs+=pt(1.75,4.2);
for(let i=0;i<8;i++){gs+=pt(-1.8+R()*3.6,3.2+R()*0.8);}
mk('path',{d:gs,fill:'#bdbdbd'},V);
mk('path',{d:bs,fill:'#2b3d99'},V);
mk('path',{d:rs,fill:'#e03c31'},V);

/* ---- heatmap ---- */
const HM=document.getElementById('hm');
const rows=80, rh=194.3/80;
const colOff=[];for(let c=0;c<22;c++)colOff.push(N()*0.35);
const rowOff=[];for(let i=0;i<rows;i++)rowOff.push(N()*0.55);
function val(i,c){
  let v;
  if(c<12){
    if(i<25) v=-0.9+([1,2,6,7,10].indexOf(c)>=0?-1.0:0);
    else if(i<34) v=1.3;
    else if(i<51) v=-0.4+([2,5,6,8].indexOf(c)>=0?-0.7:0);
    else v=1.0+(c===9?2.6:0);
  } else {
    const k=c-12;
    if(i<25) v=0.2;
    else if(i<38) v=1.2+([1,2,6,7].indexOf(k)>=0?0.9:0);
    else if(i<51) v=0.5;
    else { v=0.6; if(i>=54&&i<67&&k>=6&&k<=8) v=-1.8; if(i>=68&&k>=3) v=-0.6; }
  }
  return v+rowOff[i]+colOff[c]+N()*0.8;
}
function hcol(v){v=Math.max(-4,Math.min(4,v));const t=Math.pow(Math.abs(v)/4,1.0);
  if(v>=0)return 'rgb('+Math.round(20+225*t)+','+Math.round(15+30*t)+','+Math.round(15+30*t)+')';
  return 'rgb('+Math.round(15+35*t)+','+Math.round(20+190*t)+','+Math.round(15+40*t)+')';}
for(let c=0;c<22;c++){
  const x0=c<12?548+c*8.667:654+(c-12)*8.6, w=c<12?8.667:8.6;
  for(let i=0;i<rows;i++){
    mk('rect',{x:x0.toFixed(2),y:(19+i*rh).toFixed(2),width:(w+0.3).toFixed(2),height:(rh+0.3).toFixed(2),fill:hcol(val(i,c))},HM);
  }
}
/* dendrogram */
const DG=document.getElementById('dend');
let dp='';
const ryf=i=>19+(i+0.5)*rh;
function node(lo,hi){
  if(hi-lo===1)return [ryf(lo),547.5];
  let mid;
  if(lo===0&&hi===80)mid=51;else if(lo===0&&hi===51)mid=25;else mid=lo+1+Math.floor(R()*(hi-lo-1));
  const a=node(lo,mid),b=node(mid,hi);
  let x=547.5-1.6*Math.sqrt(hi-lo)-R()*0.8;
  if(lo===0&&hi===80)x=533;if(lo===0&&hi===51)x=535;
  x=Math.min(x,Math.min(a[1],b[1])-0.3);
  dp+='M'+a[1].toFixed(1)+' '+a[0].toFixed(1)+'H'+x.toFixed(1)+'V'+b[0].toFixed(1)+'H'+b[1].toFixed(1);
  return [(a[0]+b[0])/2,x];
}
node(0,80);
mk('path',{d:dp,stroke:'#8a8a8a','stroke-width':0.5,fill:'none'},DG);

/* ---- KM curves ---- */
const SX=0.935,SY=115;
const KMD={
k1:{b:[[33,.985],[36,.97],[40,.955],[45,.935],[50,.92],[55,.9],[60,.88],[64,.86],[70,.84],[75,.8],[78,.73],[105,.665]],g:[[14,.97],[38,.945]]},
k2:{b:[[3,.985],[6,.97],[12,.95],[15,.94],[25,.93],[30,.91],[34,.88],[38,.86],[42,.83],[46,.8],[50,.77],[54,.74],[70,.7],[73,.69],[105,.63]],g:[[15,.97],[37,.945]]},
k3:{b:[[12,.995],[22,.985],[35,.975],[50,.965],[75,.955],[100,.95]],g:[[3,.99],[8,.98],[15,.96],[22,.94],[28,.92],[35,.9],[40,.88],[48,.86],[55,.84],[62,.83],[70,.815],[80,.8],[95,.78],[103,.75],[106,.73]]},
k4:{b:[[5,.99],[10,.975],[15,.965],[22,.955],[30,.94],[38,.925],[45,.91],[52,.895],[60,.885],[66,.875]],g:[[3,.98],[8,.955],[12,.93],[17,.9],[22,.86],[26,.82],[30,.8],[35,.78],[40,.76],[45,.74],[50,.72],[55,.7],[62,.68],[75,.67],[85,.64],[92,.62],[103,.6]]},
k5:{b:[[38,.965]],g:[[19,.93],[22,.92],[35,.85],[109,.76]]},
k6:{b:[[20,.97],[32,.94]],g:[[4,.96],[20,.92],[23,.88],[29,.85],[32,.82],[107,.71]]},
k7:{b:[[15,.975],[37,.945]],g:[[2,.985],[8,.975],[14,.96],[20,.945],[25,.93],[30,.91],[36,.9],[42,.88],[48,.87],[55,.85],[62,.83],[68,.82],[75,.81],[85,.805],[95,.78],[100,.76],[105,.73]]},
k8:{b:[[15,.97],[37,.945]],g:[[2,.985],[5,.97],[8,.95],[11,.92],[14,.89],[17,.86],[20,.83],[24,.8],[27,.78],[33,.76],[38,.74],[42,.72],[47,.69],[52,.68],[70,.66],[73,.64],[100,.61],[104,.6]]},
k9:{b:[[28,.99],[35,.98],[42,.96],[46,.95],[50,.93],[55,.91],[60,.89],[64,.88],[72,.85],[75,.8],[78,.73],[105,.66]],g:[[22,.99],[35,.98],[45,.97],[60,.96],[80,.95]]},
k10:{b:[[3,.985],[8,.97],[15,.95],[20,.94],[28,.92],[33,.89],[37,.86],[41,.83],[45,.8],[49,.77],[53,.74],[57,.73],[72,.69],[105,.63]],g:[[8,.98],[15,.96],[25,.945],[35,.93],[42,.91],[50,.895],[58,.88]]},
k11:{b:[[13,.97],[38,.945]],g:[[21,.93],[24,.92],[35,.85],[107,.76]]},
k12:{b:[[13,.97],[37,.945]],g:[[7,.96],[20,.92],[22,.88],[27,.85],[33,.82],[107,.71]]},
k13:{b:[[35,.99],[40,.975],[45,.96],[48,.95],[52,.93],[57,.91],[62,.89],[66,.88],[73,.85],[76,.8],[80,.73],[106,.66]],g:[[46,.965]]},
k14:{b:[[3,.985],[8,.97],[13,.95],[20,.94],[27,.92],[33,.9],[37,.87],[41,.84],[45,.8],[49,.77],[53,.74],[57,.73],[73,.69],[106,.63]],g:[[15,.97],[35,.94]]}
};
function sAt(steps,t){let s=1;for(const st of steps){if(st[0]<=t)s=st[1];}return s;}
function drawCurve(G,steps,color,end){
  let d='M0 '+(-SY);
  for(const st of steps){d+='H'+(st[0]*SX).toFixed(1)+'V'+(-st[1]*SY).toFixed(1);}
  d+='H'+(end*SX).toFixed(1);
  let c='';
  for(let t=2+R()*6;t<end;t+=2+R()*7){const s=sAt(steps,t);c+='M'+(t*SX).toFixed(1)+' '+(-s*SY-2.3).toFixed(1)+'v4.6';}
  mk('path',{d:d,stroke:color,'stroke-width':1.1,fill:'none'},G);
  mk('path',{d:c,stroke:color,'stroke-width':0.8,fill:'none'},G);
}
for(const k in KMD){const G=document.getElementById(k);if(!G)continue;
  drawCurve(G,KMD[k].g,'#5db85d',120);
  drawCurve(G,KMD[k].b,'#4d60ad',120);
}

/* ---- IHC textures ---- */
const IH=document.getElementById('ihc');
function tex(id,x,y,w,h,base,layers){
  const G=mk('g',{'clip-path':'url(#'+id+')'},IH);
  mk('rect',{x:x,y:y,width:w,height:h,fill:base},G);
  for(const L of layers){for(let i=0;i<L.n;i++){
    const cx=x+R()*w,cy=y+R()*h;
    const rx=L.rx[0]+R()*(L.rx[1]-L.rx[0]),ry=L.ry[0]+R()*(L.ry[1]-L.ry[0]),rot=L.rot[0]+R()*(L.rot[1]-L.rot[0]);
    mk('ellipse',{cx:cx.toFixed(1),cy:cy.toFixed(1),rx:rx.toFixed(1),ry:ry.toFixed(1),fill:L.c,transform:'rotate('+rot.toFixed(0)+' '+cx.toFixed(1)+' '+cy.toFixed(1)+')'},G);
  }}
}
tex('i1',23,772,88,69,'#dcd4cf',[{n:120,c:'rgba(232,214,190,0.6)',rx:[3,7],ry:[1,2.5],rot:[-40,40]},{n:450,c:'rgba(140,120,160,0.45)',rx:[0.5,1.1],ry:[0.5,1.1],rot:[0,0]}]);
tex('i2',23,843,88,67,'#d8cfcd',[{n:100,c:'rgba(240,232,228,0.6)',rx:[3,8],ry:[1,2.5],rot:[-30,30]},{n:500,c:'rgba(125,100,150,0.5)',rx:[0.6,1.3],ry:[0.6,1.2],rot:[0,0]}]);
tex('i3',113,772,90,69,'#d9bb93',[{n:160,c:'rgba(242,228,208,0.65)',rx:[4,9],ry:[0.8,1.8],rot:[-50,20]},{n:300,c:'rgba(170,120,70,0.45)',rx:[0.6,1.5],ry:[0.5,1],rot:[-30,30]}]);
tex('i4',113,843,90,67,'#c99d6b',[{n:140,c:'rgba(245,235,218,0.7)',rx:[4,10],ry:[0.8,1.8],rot:[-40,10]},{n:350,c:'rgba(120,72,35,0.5)',rx:[0.8,2],ry:[0.6,1.2],rot:[-30,30]}]);

/* ---- bar chart dots ---- */
const HD=document.getElementById('hdots');
function rowd(cx,v,n,sp){const y=881.7-12.67*v;for(let j=0;j<n;j++){mk('circle',{cx:(cx+(j-(n-1)/2)*sp).toFixed(1),cy:y.toFixed(1),r:1.8,fill:'#111'},HD);}}
[[6,1],[5,5],[4,5],[3,7],[2,12],[1,13]].forEach(a=>rowd(281,a[0],a[1],4.1));
[[8,1],[6,7],[5,3],[4,7],[3,8],[2,2],[1,8]].forEach(a=>rowd(355,a[0],a[1],5.6));
})();
</script>
</body></html>
